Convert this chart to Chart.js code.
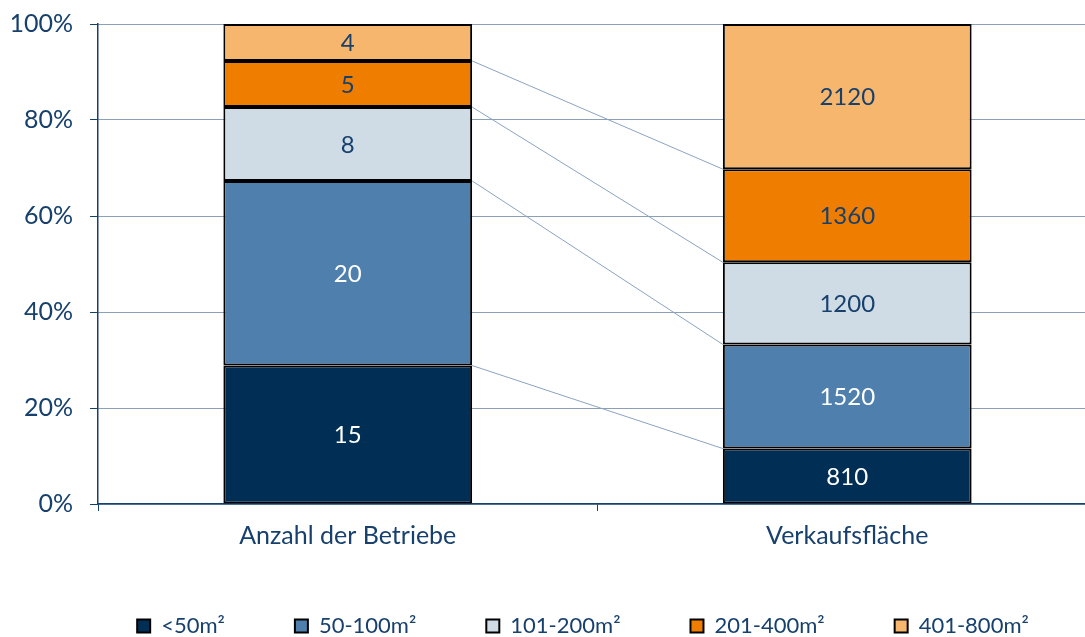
<!DOCTYPE html>
<html>
<head>
<meta charset="utf-8">
<script src="https://cdn.jsdelivr.net/npm/chart.js@4"></script>
<style>
  body { margin: 0; background: #fff; overflow: hidden; }
  #wrap { width: 1097px; height: 663px; }
</style>
</head>
<body>
<div id="wrap"><canvas id="chart"></canvas></div>
<script>
const categories = ['Anzahl der Betriebe', 'Verkaufsfläche'];
const seriesNames = ['<50m²', '50-100m²', '101-200m²', '201-400m²', '401-800m²'];
const betriebe = [15, 20, 8, 5, 4];
const flaeche = [810, 1520, 1200, 1360, 2120];
const colors = ['#002e54', '#4f80ad', '#cfdce6', '#ef7e00', '#f7b66e'];
const labelColors = ['#ffffff', '#ffffff', '#17406d', '#17406d', '#17406d'];
const yTicks = [0, 20, 40, 60, 80, 100];

const navy = '#17406d';
const fontName = 'Lato, "Open Sans", sans-serif';

const sumB = betriebe.reduce((a, b) => a + b, 0);
const sumF = flaeche.reduce((a, b) => a + b, 0);

let datasets = seriesNames.map((name, i) => ({
    label: name,
    data: [betriebe[i] / sumB * 100, flaeche[i] / sumF * 100],
    raw: [betriebe[i], flaeche[i]],
    backgroundColor: colors[i],
    borderColor: '#000000',
    borderWidth: 2,
    borderSkipped: false,
    categoryPercentage: 1,
    barPercentage: 0.498
}));

// value labels inside segments
const valueLabels = {
    id: 'valueLabels',
    afterDatasetsDraw(chart) {
        const ctx = chart.ctx;
        ctx.save();
        ctx.font = '24px ' + fontName;
        ctx.textAlign = 'center';
        ctx.textBaseline = 'middle';
        chart.data.datasets.forEach((ds, i) => {
            chart.getDatasetMeta(i).data.forEach((bar, j) => {
                ctx.fillStyle = labelColors[i];
                ctx.fillText(ds.raw[j], bar.x, (bar.y + bar.base) / 2 + 1);
            });
        });
        ctx.restore();
    }
};

// thin lines between the bars
const connectors = {
    id: 'connectors',
    beforeDatasetsDraw(chart) {
        const ctx = chart.ctx;
        ctx.save();
        ctx.strokeStyle = '#8aa3c2';
        ctx.lineWidth = 1;
        for (let i = 0; i < chart.data.datasets.length - 1; i++) {
            const els = chart.getDatasetMeta(i).data;
            const a = els[0], b = els[1];
            ctx.beginPath();
            ctx.moveTo(a.x + a.width / 2, a.y);
            ctx.lineTo(b.x - b.width / 2, b.y);
            ctx.stroke();
        }
        ctx.restore();
    }
};

// move the legend row a bit right and up, like the original
const legendShift = {
    id: 'legendShift',
    afterLayout(chart) {
        const lg = chart.legend;
        const dx = 583 - (lg.left + lg.right) / 2;
        lg.left += dx;
        lg.right += dx;
        lg.top -= 16;
        lg.bottom -= 16;
    }
};

new Chart(document.getElementById('chart'), {
    type: 'bar',
    data: { labels: categories, datasets: datasets },
    plugins: [connectors, valueLabels, legendShift],
    options: {
        responsive: true,
        maintainAspectRatio: false,
        animation: false,
        layout: { padding: { top: 0, left: 12, right: 0, bottom: 0 } },
        plugins: {
            tooltip: { enabled: false },
            legend: {
                position: 'bottom',
                labels: {
                    boxWidth: 13,
                    boxHeight: 13,
                    padding: 70,
                    color: navy,
                    font: { family: fontName, size: 22 }
                }
            }
        },
        scales: {
            x: {
                stacked: true,
                offset: true,
                grid: {
                    offset: true,
                    drawOnChartArea: false,
                    drawTicks: true,
                    tickLength: 7,
                    color: navy
                },
                border: { color: navy, width: 1.5 },
                ticks: { color: navy, padding: 10, font: { family: fontName, size: 25 } }
            },
            y: {
                stacked: true,
                min: 0,
                max: 100,
                afterBuildTicks(scale) { scale.ticks = yTicks.map(v => ({ value: v })); },
                afterFit(scale) {
                    scale.width = 86;
                    scale.paddingTop = 24;
                },
                grid: {
                    color: navy,
                    lineWidth: 1,
                    tickLength: 8,
                    drawTicks: true
                },
                border: { color: navy, width: 1.5, dash: [1, 1] },
                ticks: {
                    color: navy,
                    padding: 17,
                    font: { family: fontName, size: 25 },
                    callback: v => v + '%'
                }
            }
        }
    }
});
</script>
</body>
</html>
